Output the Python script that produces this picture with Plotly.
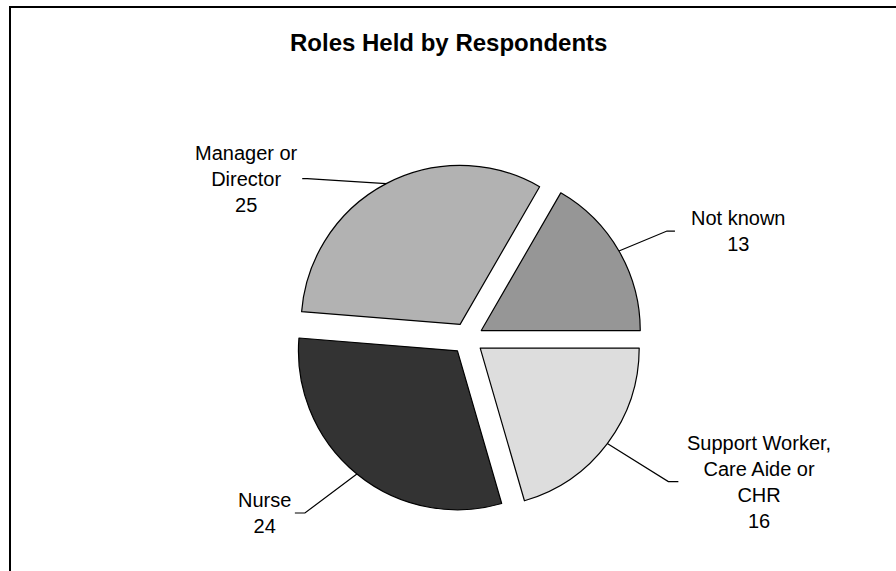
import math
import plotly.graph_objects as go

# Survey counts by role, listed clockwise starting from the "Not known" slice
roles = ["Not known", "Support Worker, Care Aide or CHR", "Nurse", "Manager or Director"]
counts = [13, 16, 24, 25]
label_lines = ["Not known", "Support Worker,<br>Care Aide or<br>CHR", "Nurse", "Manager or<br>Director"]
colors = ["#969696", "#dddddd", "#333333", "#b2b2b2"]

TITLE = "Roles Held by Respondents"

# Canvas and pie geometry (pixels)
W, H = 896, 571
CX, CY = 467.5, 338.5      # pie centre
R = 159                    # slice radius
PULL = 0.1                 # explode distance as a fraction of the radius
START_ANGLE = 30           # first slice starts 30 deg clockwise from 12 o'clock

# Label placement relative to the leader anchor on each slice's rim:
# (text dx, text dy, elbow x from text centre, stub end x from text centre)
label_place = {
    "Not known": (120, -20, -72, -64),
    "Support Worker, Care Aide or CHR": (152, 38, -91, -81),
    "Nurse": (-92, 39, 40, 30),
    "Manager or Director": (-140, -5, 61, 56),
}

FONT = "Liberation Sans, Arial, sans-serif"


def px(x):
    return x / W


def py(y):
    return 1 - y / H


outer = R * (1 + PULL)
domain_x = [px(CX - outer), px(CX + outer)]
domain_y = [py(CY + outer), py(CY - outer)]

fig = go.Figure(
    go.Pie(
        labels=roles,
        values=counts,
        sort=False,
        direction="clockwise",
        rotation=START_ANGLE,
        pull=[PULL] * len(counts),
        marker=dict(colors=colors, line=dict(color="#000000", width=1.2)),
        textinfo="none",
        hoverinfo="label+value",
        showlegend=False,
        domain=dict(x=domain_x, y=domain_y),
    )
)

total = sum(counts)
angle = START_ANGLE
shapes = []
annotations = []
for role, n, text in zip(roles, counts, label_lines):
    span = 360 * n / total
    mid = math.radians(angle + span / 2)
    angle += span
    ux, uy = math.sin(mid), -math.cos(mid)
    # slice centre after exploding, then the rim point at the mid angle
    sx, sy = CX + PULL * R * ux, CY + PULL * R * uy
    ax, ay = sx + R * ux, sy + R * uy
    dx, dy, elbow, stub = label_place[role]
    tx, ty = ax + dx, ay + dy
    path = "M {:.4f} {:.4f} L {:.4f} {:.4f} L {:.4f} {:.4f}".format(
        px(ax), py(ay), px(tx + elbow), py(ty), px(tx + stub), py(ty)
    )
    shapes.append(dict(type="path", xref="paper", yref="paper", path=path,
                       line=dict(color="#000000", width=1.2)))
    annotations.append(dict(
        x=px(tx), y=py(ty), xref="paper", yref="paper",
        text=f"{text}<br>{n}", showarrow=False,
        xanchor="center", yanchor="middle", align="center",
        font=dict(family=FONT, size=20, color="#000000"),
    ))

# Chart title
annotations.append(dict(
    x=0.5, y=py(43), xref="paper", yref="paper", text=f"<b>{TITLE}</b>",
    showarrow=False, xanchor="center", yanchor="middle",
    font=dict(family=FONT, size=24, color="#000000"),
))

# Chart-area frame
shapes.append(dict(type="rect", xref="paper", yref="paper",
                   x0=px(10), x1=1.02, y0=-0.02, y1=py(7),
                   line=dict(color="#000000", width=2), fillcolor="rgba(0,0,0,0)"))

fig.update_layout(
    width=W, height=H, autosize=False,
    margin=dict(l=0, r=0, t=0, b=0),
    paper_bgcolor="#ffffff", plot_bgcolor="#ffffff",
    shapes=shapes, annotations=annotations,
)

fig.write_html("out.html")
